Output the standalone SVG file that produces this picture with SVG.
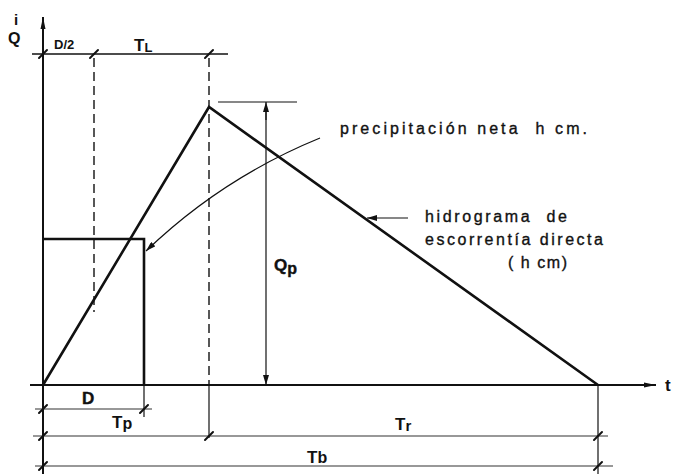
<svg xmlns="http://www.w3.org/2000/svg" width="674" height="474" viewBox="0 0 674 474">
<style>
.ax{stroke:#111;stroke-width:2;fill:none}
.hy{stroke:#111;stroke-width:2.6;fill:none;stroke-linejoin:miter}
.dim{stroke:#333;stroke-width:1.2;fill:none}
.dash{stroke:#111;stroke-width:1.4;stroke-dasharray:9 5;fill:none}
.tick{stroke:#111;stroke-width:2;stroke-linecap:round}
.thin{stroke:#111;stroke-width:1.2;fill:none}
text{font-family:"Liberation Sans",Arial,sans-serif;fill:#111}
.lbl{font-size:16px;stroke:#111;stroke-width:0.35}
.sym{font-size:17px;font-weight:bold}
.b{font-weight:bold}
</style>
<defs>
<marker id="arr" viewBox="0 0 10 6" refX="10" refY="3" markerWidth="10" markerHeight="6" markerUnits="userSpaceOnUse" orient="auto">
<path d="M0,0 L10,3 L0,6 Z" fill="#111"/>
</marker>
<marker id="arrB" viewBox="0 0 12 6" refX="12" refY="3" markerWidth="12" markerHeight="6" markerUnits="userSpaceOnUse" orient="auto">
<path d="M0,0.5 L12,3 L0,5.5 Z" fill="#111"/>
</marker>
</defs>

<g id="axes">
<line class="ax" x1="43" y1="474" x2="43" y2="17" marker-end="url(#arrB)"/>
<line class="ax" x1="30" y1="385" x2="656" y2="385" marker-end="url(#arrB)"/>
<text class="b" x="14" y="25" font-size="15">i</text>
<text class="b" x="8" y="44" font-size="16">Q</text>
<text class="b" x="665" y="391" font-size="17">t</text>
</g>

<g id="hydrograph">
<polyline class="hy" points="43,385 209,107 598,385"/>
</g>

<g id="rainfall">
<polyline class="hy" points="43,239 144,239 144,385"/>
</g>

<g id="guides">
<line class="dash" x1="94" y1="58" x2="94" y2="312"/>
<line class="dash" x1="209" y1="58" x2="209" y2="385"/>
<line class="thin" x1="209" y1="385" x2="209" y2="438"/>
<line class="thin" x1="144" y1="385" x2="144" y2="417"/>
<line class="thin" x1="598" y1="385" x2="598" y2="474"/>
</g>

<g id="dimensions">
<line class="dim" x1="32" y1="54" x2="228" y2="54" style="stroke-width:1.6;stroke:#111"/>
<line class="dim" x1="35" y1="409" x2="152" y2="409"/>
<line class="dim" x1="33" y1="436" x2="608" y2="436"/>
<line class="dim" x1="35" y1="466" x2="613" y2="466"/>
<line class="tick" x1="39" y1="58" x2="47" y2="50"/>
<line class="tick" x1="90" y1="58" x2="98" y2="50"/>
<line class="tick" x1="205" y1="58" x2="213" y2="50"/>
<line class="tick" x1="39" y1="413" x2="47" y2="405"/>
<line class="tick" x1="140" y1="413" x2="148" y2="405"/>
<line class="tick" x1="39" y1="440" x2="47" y2="432"/>
<line class="tick" x1="205" y1="440" x2="213" y2="432"/>
<line class="tick" x1="594" y1="440" x2="602" y2="432"/>
<line class="tick" x1="39" y1="470" x2="47" y2="462"/>
<line class="tick" x1="594" y1="470" x2="602" y2="462"/>
<line class="thin" x1="218" y1="102" x2="297" y2="102"/>
<line class="thin" x1="266" y1="120" x2="266" y2="102" marker-end="url(#arr)"/>
<line class="thin" x1="266" y1="110" x2="266" y2="385" marker-end="url(#arr)"/>
<text x="54" y="49" font-size="13" font-weight="bold">D/2</text>
<text class="sym" x="134" y="51">T<tspan font-size="13" dy="1">L</tspan></text>
<text class="sym" x="274" y="271" font-weight="normal" style="stroke:#111;stroke-width:0.4">Q<tspan dy="3" font-size="16">p</tspan></text>
<text class="sym" x="82" y="404" font-weight="normal" style="stroke:#111;stroke-width:0.4">D</text>
<text class="sym" x="112" y="428">T<tspan dy="1" font-size="16">p</tspan></text>
<text class="sym" x="395" y="430">T<tspan dy="1" font-size="15">r</tspan></text>
<text class="sym" x="307" y="463">T<tspan font-size="16">b</tspan></text>
</g>

<g id="connectors">
<path class="thin" d="M320,138 Q222,178 146,251" marker-end="url(#arr)"/>
<line class="thin" x1="408" y1="218" x2="367" y2="218" marker-end="url(#arr)"/>
</g>

<g id="labels">
<text class="lbl" x="340" y="134" textLength="247" lengthAdjust="spacing" xml:space="preserve">precipitación neta  h cm.</text>
<text class="lbl" x="425" y="222" textLength="142" lengthAdjust="spacing" xml:space="preserve">hidrograma  de</text>
<text class="lbl" x="425" y="245" textLength="178" lengthAdjust="spacing">escorrentía directa</text>
<text class="lbl" x="508" y="268" textLength="59" lengthAdjust="spacing">( h cm)</text>
</g>
</svg>
